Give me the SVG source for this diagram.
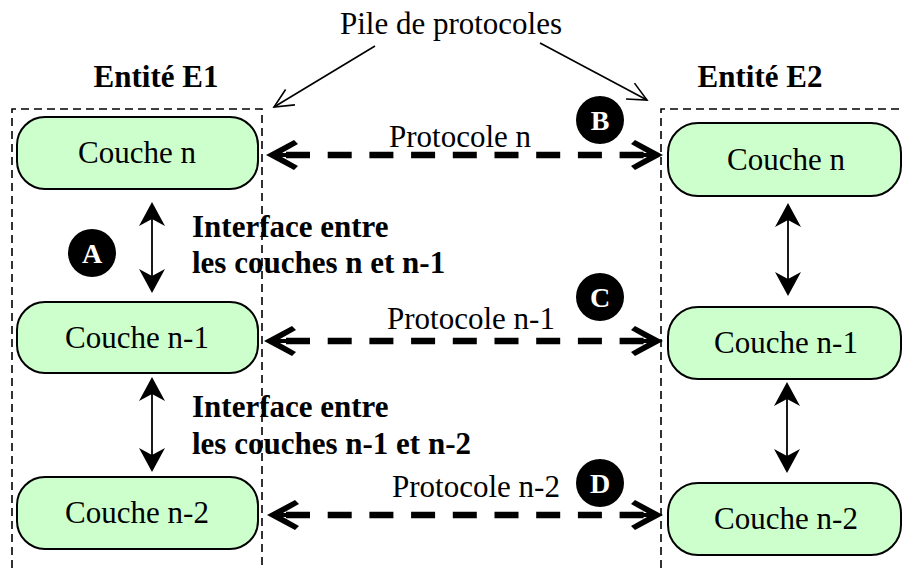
<svg xmlns="http://www.w3.org/2000/svg" width="903" height="568" viewBox="0 0 903 568">
<style>
  text { font-family: "Liberation Serif", "Times New Roman", serif; fill: #000; }
  .t { font-size: 31px; text-anchor: middle; }
  .b { font-size: 31px; font-weight: bold; }
  .node { fill: #CCFFCC; stroke: #000; stroke-width: 2; }
  .box { fill: none; stroke: #000; stroke-width: 1.6; stroke-dasharray: 8 5; }
  .proto { fill: none; stroke: #000; stroke-width: 6.5; stroke-dasharray: 24 17.7; }
  .iface { fill: none; stroke: #000; stroke-width: 1.8; }
  .pile { fill: none; stroke: #000; stroke-width: 1.6; }
  .badge { fill: #000; }
  .bl { font-size: 28px; font-weight: bold; text-anchor: middle; fill: #fff; }
</style>
<defs>
  <marker id="open" markerUnits="userSpaceOnUse" markerWidth="30" markerHeight="30" viewBox="-25 -15 30 30" refX="0" refY="0" orient="auto">
    <path d="M-19,-9 L0,0 L-19,9" fill="none" stroke="#000" stroke-width="1.6"/>
  </marker>
  <path id="hh" d="M0,0 L28,-15 L32,-11 L16,-2 L22,-2 L22,2 L16,2 L32,11 L28,15 Z"/>
  <path id="vh" d="M0,0 L-13,24 L0,17 L13,24 Z"/>
</defs>

<g id="entity-boxes">
  <path class="box" d="M12,568 L12,109 L262,109 L262,568"/>
  <path class="box" d="M661,568 L661,109 L903,109"/>
</g>

<g id="title-labels">
  <text class="t" x="451" y="34">Pile de protocoles</text>
  <text class="b" x="156" y="87" text-anchor="middle">Entité E1</text>
  <text class="b" x="760" y="87" text-anchor="middle">Entité E2</text>
</g>

<g id="e1-couche-n">
  <rect class="node" x="17" y="117" width="241" height="72" rx="28" ry="28"/>
  <text class="t" x="137" y="163">Couche n</text>
</g>
<g id="e1-couche-n-1">
  <rect class="node" x="17" y="302" width="241" height="71" rx="28" ry="28"/>
  <text class="t" x="137" y="348">Couche n-1</text>
</g>
<g id="e1-couche-n-2">
  <rect class="node" x="17" y="477" width="241" height="72" rx="28" ry="28"/>
  <text class="t" x="137" y="523">Couche n-2</text>
</g>
<g id="e2-couche-n">
  <rect class="node" x="668" y="123" width="233" height="73" rx="30" ry="30"/>
  <text class="t" x="786" y="170">Couche n</text>
</g>
<g id="e2-couche-n-1">
  <rect class="node" x="668" y="307" width="233" height="72" rx="30" ry="30"/>
  <text class="t" x="786" y="353">Couche n-1</text>
</g>
<g id="e2-couche-n-2">
  <rect class="node" x="668" y="483" width="233" height="72" rx="30" ry="30"/>
  <text class="t" x="786" y="529">Couche n-2</text>
</g>

<g id="connectors">
  <line class="pile" x1="375" y1="46" x2="274" y2="107" marker-end="url(#open)"/>
  <line class="pile" x1="540" y1="43" x2="647" y2="100" marker-end="url(#open)"/>

  <line class="proto" x1="286" y1="155" x2="652" y2="155"/>
  <use href="#hh" x="266" y="155"/>
  <use href="#hh" transform="translate(663,155) scale(-1,1)"/>
  <line class="proto" x1="286" y1="341" x2="652" y2="341"/>
  <use href="#hh" x="264" y="341"/>
  <use href="#hh" transform="translate(663,341) scale(-1,1)"/>
  <line class="proto" x1="286" y1="515" x2="652" y2="515"/>
  <use href="#hh" x="267" y="515"/>
  <use href="#hh" transform="translate(663,515) scale(-1,1)"/>

  <line class="iface" x1="152" y1="212" x2="152" y2="283"/>
  <use href="#vh" x="152" y="202"/>
  <use href="#vh" transform="translate(152,293) scale(1,-1)"/>
  <line class="iface" x1="152" y1="387" x2="152" y2="462"/>
  <use href="#vh" x="152" y="377"/>
  <use href="#vh" transform="translate(152,472) scale(1,-1)"/>
  <line class="iface" x1="788" y1="213" x2="788" y2="286"/>
  <use href="#vh" x="788" y="203"/>
  <use href="#vh" transform="translate(788,296) scale(1,-1)"/>
  <line class="iface" x1="787" y1="392" x2="787" y2="463"/>
  <use href="#vh" x="787" y="382"/>
  <use href="#vh" transform="translate(787,473) scale(1,-1)"/>
</g>

<g id="connector-labels">
  <text class="t" x="460" y="147">Protocole n</text>
  <text class="t" x="471" y="329">Protocole n-1</text>
  <text class="t" x="476" y="497">Protocole n-2</text>
  <text class="b" x="192" y="237">Interface entre</text>
  <text class="b" x="192" y="273">les couches n et n-1</text>
  <text class="b" x="192" y="417">Interface entre</text>
  <text class="b" x="192" y="454">les couches n-1 et n-2</text>
</g>

<g id="badge-a">
  <circle class="badge" cx="92" cy="253" r="24"/>
  <text class="bl" x="92" y="263">A</text>
</g>
<g id="badge-b">
  <circle class="badge" cx="600" cy="120" r="24"/>
  <text class="bl" x="600" y="130">B</text>
</g>
<g id="badge-c">
  <circle class="badge" cx="600" cy="297" r="24"/>
  <text class="bl" x="600" y="307">C</text>
</g>
<g id="badge-d">
  <circle class="badge" cx="600" cy="483" r="24"/>
  <text class="bl" x="600" y="493">D</text>
</g>
</svg>
